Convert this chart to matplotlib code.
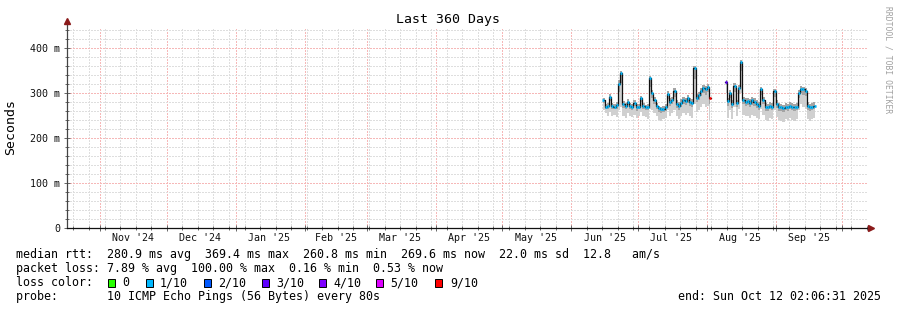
import numpy as np
import matplotlib
matplotlib.use('Agg')
import matplotlib.pyplot as plt
import matplotlib.dates as mdates
import matplotlib.transforms as mtransforms
from matplotlib.patches import Rectangle
from matplotlib.ticker import MultipleLocator, FixedLocator
from datetime import datetime, timedelta

nan = np.nan

# ---------------- data ----------------
range_start = datetime(2024, 10, 17, 2, 6, 31)
range_end = datetime(2025, 10, 12, 2, 6, 31)
data_start = datetime(2025, 6, 15, 12, 0)

median_ms = [
    284, 270, 272, 292, 271, 270, 273, 321, 344, 275,
    272, 280, 271, 270, 278, 268, 270, 288, 272, 268,
    269, 333, 300, 285, 272, 266, 264, 265, 268, 298,
    280, 285, 305, 276, 272, 278, 285, 282, 288, 280,
    278, 355, 290, 295, 305, 312, 308, 314, 290, nan,
    nan, nan, nan, nan, nan, 325, 282, 300, 276, 316,
    278, 312, 370, 285, 280, 282, 278, 284, 280, 276,
    272, 308, 285, 270, 268, 272, 270, 305, 276, 270,
    268, 266, 270, 268, 272, 270, 268, 270, 300, 310,
    308, 305, 272, 268, 270, 272]

smoke_lo_ms = [
    262, 255, 250, 258, 248, 252, 246, 262, 268, 250,
    245, 255, 250, 247, 252, 244, 249, 258, 250, 246,
    243, 265, 262, 255, 248, 240, 238, 242, 244, 262,
    250, 256, 262, 248, 243, 250, 255, 252, 256, 250,
    245, 275, 258, 262, 268, 275, 270, 272, 240, nan,
    nan, nan, nan, nan, nan, 300, 245, 262, 243, 270,
    248, 265, 300, 252, 248, 250, 245, 252, 248, 244,
    242, 265, 252, 240, 238, 245, 242, 262, 246, 240,
    238, 236, 242, 240, 244, 241, 238, 242, 262, 275,
    270, 265, 243, 238, 242, 245]

smoke_hi_ms = [
    290, 276, 278, 298, 277, 276, 280, 328, 350, 282,
    278, 286, 277, 276, 284, 275, 276, 294, 278, 274,
    276, 338, 306, 292, 278, 272, 270, 272, 275, 304,
    288, 292, 312, 284, 280, 286, 292, 290, 295, 288,
    286, 360, 298, 302, 312, 318, 316, 320, 298, nan,
    nan, nan, nan, nan, nan, 330, 288, 306, 284, 322,
    285, 318, 374, 292, 288, 290, 286, 292, 288, 284,
    280, 314, 292, 278, 276, 280, 278, 310, 284, 278,
    276, 274, 278, 276, 280, 278, 276, 278, 306, 316,
    314, 312, 280, 276, 278, 280]

loss_tenths = [1] * 96
loss_tenths[48] = 9
loss_tenths[55] = 3

loss_levels = [0, 1, 2, 3, 4, 5, 9]
loss_level_labels = ['0', '1/10', '2/10', '3/10', '4/10', '5/10', '9/10']
loss_level_colors = ['#26ff00', '#00b8ff', '#0059ff', '#5e00ff', '#7e00ff', '#dd00ff', '#ff0000']

month_labels = ["Nov '24", "Dec '24", "Jan '25", "Feb '25", "Mar '25", "Apr '25",
                "May '25", "Jun '25", "Jul '25", "Aug '25", "Sep '25"]
month_label_dates = [datetime(2024, 11, 16), datetime(2024, 12, 16), datetime(2025, 1, 16),
                     datetime(2025, 2, 15), datetime(2025, 3, 16), datetime(2025, 4, 16),
                     datetime(2025, 5, 16), datetime(2025, 6, 16), datetime(2025, 7, 16),
                     datetime(2025, 8, 16), datetime(2025, 9, 16)]
ytick_values = [0, 100, 200, 300, 400]
ytick_labels = ['0', '100 m', '200 m', '300 m', '400 m']

title = 'Last 360 Days'
legend_rtt = 'median rtt:  280.9 ms avg  369.4 ms max  260.8 ms min  269.6 ms now  22.0 ms sd  12.8   am/s'
legend_loss = 'packet loss: 7.89 % avg  100.00 % max  0.16 % min  0.53 % now'
legend_probe = 'probe:       10 ICMP Echo Pings (56 Bytes) every 80s'
legend_end = 'end: Sun Oct 12 02:06:31 2025'

# ---------------- figure ----------------
W, H = 897, 310
fig = plt.figure(figsize=(W / 100, H / 100), dpi=100)
fig.patch.set_facecolor('white')
MONO = 'DejaVu Sans Mono'

ax_l, ax_r, ax_t, ax_b = 67, 867, 27, 228
ax = fig.add_axes([ax_l / W, 1 - ax_b / H, (ax_r - ax_l) / W, (ax_b - ax_t) / H])
ax.set_facecolor('white')

ymax = (ax_b - ax_t) / 0.45
ax.set_ylim(0, ymax)
ax.set_xlim(mdates.date2num(range_start), mdates.date2num(range_end))

# grid
ax.xaxis.set_major_locator(mdates.MonthLocator())
ax.xaxis.set_minor_locator(mdates.WeekdayLocator(byweekday=mdates.SU))
ax.yaxis.set_major_locator(FixedLocator(ytick_values))
ax.yaxis.set_minor_locator(MultipleLocator(20))
ax.grid(which='minor', color='#dedede', linestyle=(0, (1, 1)), linewidth=0.75,
        antialiased=False)
ax.grid(which='major', color='#f6b8b8', linestyle=(0, (1, 1)), linewidth=0.75,
        antialiased=False)
ax.set_axisbelow(True)

ax.set_yticklabels(ytick_labels, fontsize=7.2, family=MONO, color='#111111')
ax.set_xticklabels([])
ax.tick_params(axis='both', which='both', direction='inout', color='#666666', width=0.7)
ax.tick_params(axis='both', which='major', length=4)
ax.tick_params(axis='both', which='minor', length=2.5)
ax.tick_params(axis='y', which='major', pad=3)
for s in ax.spines.values():
    s.set_visible(False)

# month labels
trans = mtransforms.blended_transform_factory(ax.transData, ax.transAxes)
for d, lab in zip(month_label_dates, month_labels):
    ax.text(mdates.date2num(d), -10 / (ax_b - ax_t), lab, transform=trans,
            ha='center', va='center', fontsize=7.2, family=MONO, color='#111111')

# axis lines with arrows
ax.plot([0, 0], [0, 1 + 4 / (ax_b - ax_t)], transform=ax.transAxes, color='#444444',
        lw=0.9, clip_on=False, zorder=5)
ax.plot([0, 1 + 2 / (ax_r - ax_l)], [0, 0], transform=ax.transAxes, color='#111111',
        lw=0.9, clip_on=False, zorder=5)
ax.plot([0], [1 + 6 / (ax_b - ax_t)], marker='^', color='#8b1a1a', markersize=4.5,
        transform=ax.transAxes, clip_on=False, zorder=6)
ax.plot([1 + 4 / (ax_r - ax_l)], [0], marker='>', color='#8b1a1a', markersize=4.5,
        transform=ax.transAxes, clip_on=False, zorder=6)

# data
t = np.array([mdates.date2num(data_start + timedelta(days=i)) for i in range(len(median_ms))])
med = np.array(median_ms, dtype=float)
lo = np.array(smoke_lo_ms, dtype=float)
hi = np.array(smoke_hi_ms, dtype=float)
ax.fill_between(t, lo, hi, step='mid', color='#d0d0d0', lw=0, zorder=2)
mid_lo = med - (med - lo) * 0.3
ax.fill_between(t, mid_lo, hi, step='mid', color='#a4a4a4', lw=0, zorder=2.1)
ax.step(t, med, where='mid', color='#111111', lw=0.9, zorder=3)
loss = np.array(loss_tenths)
for lvl, col in zip(loss_levels, loss_level_colors):
    m = (loss == lvl) & ~np.isnan(med)
    if m.any():
        ax.hlines(med[m], t[m] - 0.45, t[m] + 0.45, colors=col, lw=1.9, zorder=4)

# title and labels
fig.text(448 / W, 1 - 19 / H, title, ha='center', va='center', fontsize=9.5, family=MONO)
fig.text(11 / W, 1 - 127 / H, 'Seconds', rotation=90, ha='center', va='center',
         fontsize=9.5, family=MONO)
fig.text(887.5 / W, 1 - 60 / H, 'RRDTOOL / TOBI OETIKER', rotation=270, ha='center',
         va='center', fontsize=5.8, family=MONO, color='#a0a0a0')

# legend
LF = 8.4
fig.text(16 / W, 1 - 254.5 / H, legend_rtt, ha='left', va='center', fontsize=LF, family=MONO)
fig.text(16 / W, 1 - 268.5 / H, legend_loss, ha='left', va='center', fontsize=LF, family=MONO)
fig.text(16 / W, 1 - 282.5 / H, 'loss color:', ha='left', va='center', fontsize=LF, family=MONO)
box_x = [108, 146, 204, 262, 319, 376, 435]
lab_x = [122, 160, 218, 276, 333, 390, 450]
for bx, lx, lab, col in zip(box_x, lab_x, loss_level_labels, loss_level_colors):
    fig.add_artist(Rectangle((bx / W, 1 - 286.5 / H), 7 / W, 8 / H, transform=fig.transFigure,
                             facecolor=col, edgecolor='black', lw=0.7))
    fig.text(lx / W, 1 - 282.5 / H, lab, ha='left', va='center', fontsize=LF, family=MONO)
fig.text(16 / W, 1 - 296.5 / H, legend_probe, ha='left', va='center', fontsize=LF, family=MONO)
fig.text(881 / W, 1 - 296.5 / H, legend_end, ha='right', va='center', fontsize=LF, family=MONO)

fig.savefig('out.png', dpi=100, facecolor='white')
